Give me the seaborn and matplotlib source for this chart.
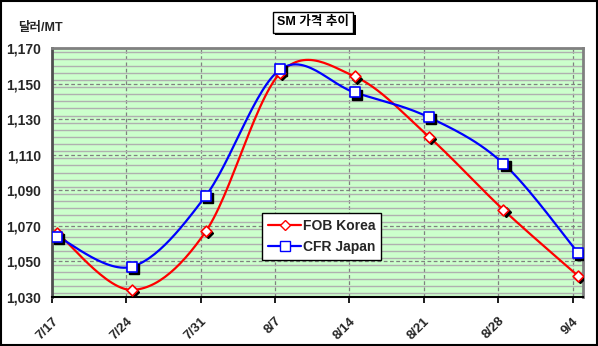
import numpy as np
import pandas as pd
import matplotlib
matplotlib.use("Agg")
import matplotlib.pyplot as plt
import matplotlib.transforms as mtransforms
import matplotlib.patheffects as pe
from matplotlib.lines import Line2D
from matplotlib.ticker import MultipleLocator, FuncFormatter
import seaborn as sns

# ---- data ----
dates = ["7/17", "7/24", "7/31", "8/7", "8/14", "8/21", "8/28", "9/4"]
fob_korea = [1066, 1034, 1067, 1156, 1154, 1120, 1079, 1042]
cfr_japan = [1064, 1047, 1087, 1158, 1145, 1131, 1105, 1055]
series_names = ["FOB Korea", "CFR Japan"]
y_ticks = [1030, 1050, 1070, 1090, 1110, 1130, 1150, 1170]

sns.set_theme(style="white")
plt.rcParams['font.family'] = ['Liberation Sans', 'Noto Sans CJK KR', 'DejaVu Sans']
plt.rcParams['font.weight'] = 'bold'

fig = plt.figure(figsize=(5.98, 3.46), dpi=100)
fig.patch.set_facecolor("white")
ax = fig.add_axes([52/598, 49/346, 531/598, 249/346])
ax.set_facecolor("#CCFFCC")


def smooth(xs, ys, n=30):
    # Excel-style smoothed line: cubic Bezier segments through the points
    P = np.column_stack([xs, ys]).astype(float)
    m = len(P)
    out = []
    for i in range(m - 1):
        p0 = P[i - 1] if i > 0 else P[i]
        p1 = P[i]
        p2 = P[i + 1]
        p3 = P[i + 2] if i + 2 < m else P[i + 1]
        c1 = p1 + (p2 - p0) / 6.0
        c2 = p2 - (p3 - p1) / 6.0
        t = np.linspace(0, 1, n)[:, None]
        seg = ((1 - t) ** 3) * p1 + 3 * ((1 - t) ** 2) * t * c1 + 3 * (1 - t) * t ** 2 * c2 + t ** 3 * p2
        out.append(seg if i == 0 else seg[1:])
    return np.vstack(out)


xs = np.arange(len(dates))
styles = [
    dict(name=series_names[0], vals=fob_korea, color="#FF0000", marker="D", ms=5.5),
    dict(name=series_names[1], vals=cfr_japan, color="#0000FF", marker="s", ms=7),
]

shadow_tr = mtransforms.offset_copy(ax.transData, fig=fig, x=1.5, y=-1.5, units="points")

for s in styles:
    curve = smooth(xs, s["vals"])
    cdf = pd.DataFrame({"x": curve[:, 0], "y": curve[:, 1]})
    sns.lineplot(data=cdf, x="x", y="y", sort=False, color=s["color"], lw=1.6, ax=ax, zorder=3)

for s in styles:
    pdf = pd.DataFrame({"x": xs, "y": s["vals"]})
    # shadow
    ax.plot(pdf["x"], pdf["y"], ls="none", marker=s["marker"], ms=s["ms"], mfc="black",
            mec="black", transform=shadow_tr, zorder=4)
    sns.scatterplot(data=pdf, x="x", y="y", marker=s["marker"], s=s["ms"] ** 2,
                    facecolor="white", edgecolor=s["color"], linewidth=1.2, ax=ax, zorder=5)

# axes
ax.set_xlim(-0.07, 7.07)
ax.set_ylim(1030, 1170)
ax.set_xticks(xs - 0.07)
ax.set_xticklabels(dates, rotation=45, ha="right", va="top", rotation_mode="anchor",
                   fontsize=9.5, fontweight="bold")
ax.set_yticks(y_ticks)
ax.yaxis.set_major_formatter(FuncFormatter(lambda v, p: f"{int(v):,}"))
ax.yaxis.set_minor_locator(MultipleLocator(4))
for lab in ax.get_yticklabels():
    lab.set_fontsize(10)
    lab.set_fontweight("bold")
ax.tick_params(axis="x", length=4, color="black", pad=9, direction="out", bottom=True)
ax.tick_params(axis="y", length=0, pad=8, left=True)
ax.tick_params(axis="y", which="minor", length=0)
ax.set_xlabel("")
ax.set_ylabel("")

ax.grid(True, which="minor", axis="y", color="#B0B0B0", lw=1.0, ls="-")
ax.grid(True, which="major", axis="y", color="#808080", lw=0.9, ls=(0, (3, 2)))
ax.grid(True, which="major", axis="x", color="#808080", lw=0.9, ls=(0, (3, 2)))
ax.set_axisbelow(True)

for side in ["top", "right", "left"]:
    ax.spines[side].set_visible(True)
    ax.spines[side].set_color("#808080")
    ax.spines[side].set_linewidth(2)
ax.spines["bottom"].set_color("black")
ax.spines["bottom"].set_linewidth(1.5)
ax.spines["left"].set_color("#505050")

# legend
handles = [
    Line2D([0], [0], color="#FF0000", lw=1.6, marker="D", ms=5, mfc="white", mec="#FF0000"),
    Line2D([0], [0], color="#0000FF", lw=1.6, marker="s", ms=6.5, mfc="white", mec="#0000FF"),
]
leg = ax.legend(handles, series_names, loc="upper left", bbox_to_anchor=(0.395, 0.337),
                borderaxespad=0, frameon=True, fancybox=False, shadow=False, handlelength=2.4,
                handletextpad=0.1, borderpad=0.45, labelspacing=0.45,
                prop={"weight": "bold", "size": 10})
leg.get_frame().set_edgecolor("black")
leg.get_frame().set_linewidth(1.0)
leg.get_frame().set_alpha(1)

# title box with shadow
title = "SM 가격 추이"
t = fig.text(313/598, 0.936, title, ha="center", va="center", fontsize=9,
             fontweight="bold", color="black",
             bbox=dict(boxstyle="square,pad=0.35", fc="white", ec="black", lw=1))
t.get_bbox_patch().set_path_effects([
    pe.SimplePatchShadow(offset=(2, -2), shadow_rgbFace="black", alpha=1.0),
    pe.Normal()])

fig.text(18/598, 0.92, "달러/MT", ha="left", va="center", fontsize=9, fontweight="bold")

# outer border
fig.add_artist(plt.Rectangle((0.001, 0.002), 0.997, 0.996, transform=fig.transFigure,
                             fill=False, ec="black", lw=1.5))

fig.savefig("out.png", dpi=100)
